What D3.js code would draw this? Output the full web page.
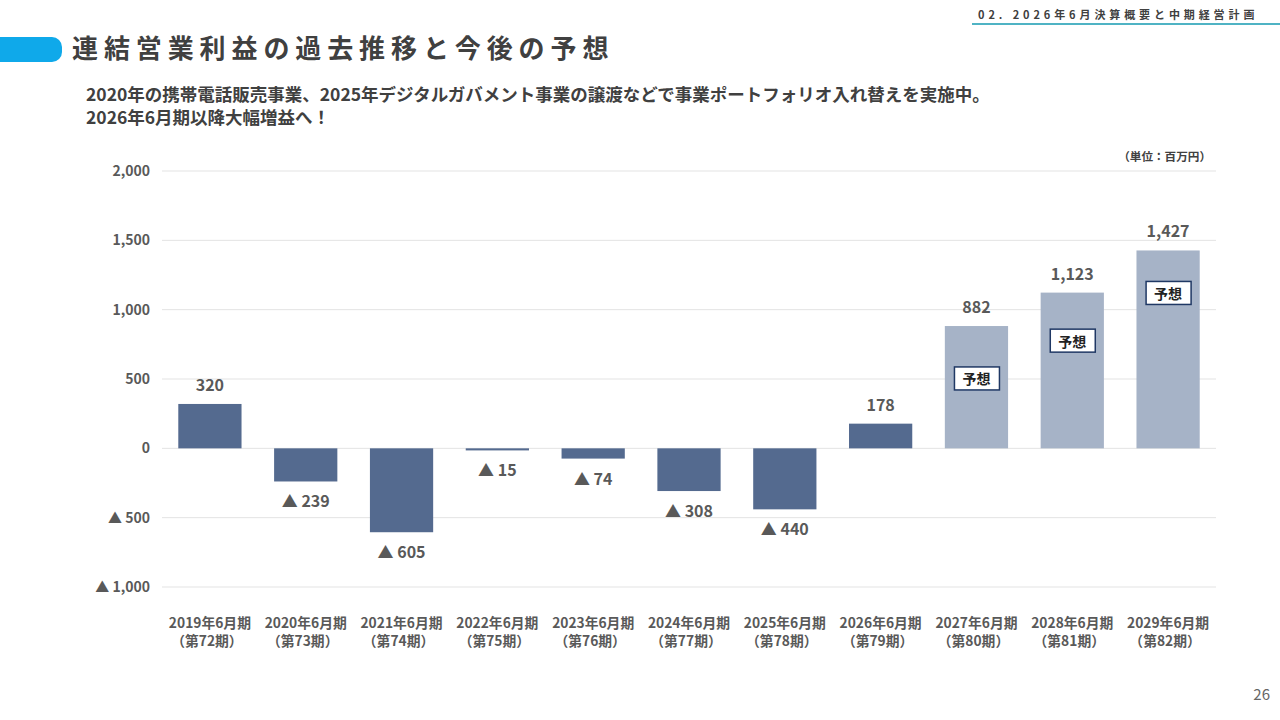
<!DOCTYPE html>
<html lang="ja">
<head>
  <meta charset="UTF-8" />
  <title>連結営業利益の過去推移と今後の予想</title>
  <style>
    body { margin: 0; padding: 0; background: #fff; font-family: "Noto Sans CJK JP", sans-serif; }
    svg { display: block; }
  </style>
</head>
<body>
  <svg id="chart"></svg>

  <script src="https://d3js.org/d3.v7.min.js"></script>
  <script>
    const W = 1280, H = 720;

    // data
    const periods = ["2019年6月期", "2020年6月期", "2021年6月期", "2022年6月期", "2023年6月期", "2024年6月期",
                     "2025年6月期", "2026年6月期", "2027年6月期", "2028年6月期", "2029年6月期"];
    const terms = ["（第72期）", "（第73期）", "（第74期）", "（第75期）", "（第76期）", "（第77期）",
                   "（第78期）", "（第79期）", "（第80期）", "（第81期）", "（第82期）"];
    const profit = [320, -239, -605, -15, -74, -308, -440, 178, 882, 1123, 1427];
    const forecast = [false, false, false, false, false, false, false, false, true, true, true];
    const yTicks = [2000, 1500, 1000, 500, 0, -500, -1000];

    const rows = periods.map((p, i) => ({ period: p, term: terms[i], value: profit[i], fc: forecast[i] }));

    const textColor = "#404040";
    const labelColor = "#595959";

    const svg = d3.select("#chart")
      .attr("width", W)
      .attr("height", H)
      .attr("viewBox", `0 0 ${W} ${H}`);

    // ---- header ----
    svg.append("rect")
      .attr("x", -20).attr("y", 37)
      .attr("width", 82).attr("height", 25)
      .attr("rx", 10)
      .attr("fill", "#0fa9ea");

    svg.append("text")
      .attr("x", 72).attr("y", 58)
      .attr("font-size", "26px")
      .attr("font-weight", 700)
      .attr("letter-spacing", "5.9px")
      .attr("fill", textColor)
      .text("連結営業利益の過去推移と今後の予想");

    svg.append("text")
      .attr("x", 978).attr("y", 19)
      .attr("font-size", "11px")
      .attr("font-weight", 700)
      .attr("letter-spacing", "3.9px")
      .attr("fill", textColor)
      .text("02. 2026年6月決算概要と中期経営計画");

    svg.append("line")
      .attr("x1", 972).attr("x2", W)
      .attr("y1", 24).attr("y2", 24)
      .attr("stroke", "#4fb3c4")
      .attr("stroke-width", 2);

    const sub = ["2020年の携帯電話販売事業、2025年デジタルガバメント事業の譲渡などで事業ポートフォリオ入れ替えを実施中。",
                 "2026年6月期以降大幅増益へ！"];
    svg.selectAll("text.sub")
      .data(sub)
      .join("text")
      .attr("class", "sub")
      .attr("x", 86)
      .attr("y", (d, i) => 101 + i * 23)
      .attr("font-size", "17.5px")
      .attr("font-weight", 700)
      .attr("fill", textColor)
      .text(d => d);

    svg.append("text")
      .attr("x", 1211).attr("y", 161)
      .attr("text-anchor", "end")
      .attr("font-size", "11.6px")
      .attr("font-weight", 700)
      .attr("fill", textColor)
      .text("（単位：百万円）");

    svg.append("text")
      .attr("x", 1270).attr("y", 700)
      .attr("text-anchor", "end")
      .attr("font-size", "15px")
      .attr("fill", "#666")
      .text("26");

    // ---- scales ----
    const x = d3.scaleBand()
      .domain(periods)
      .range([162, 1216])
      .paddingInner(0.34)
      .paddingOuter(0.17);

    const y = d3.scaleLinear()
      .domain([-1000, 2000])
      .range([587, 171]);

    const fmt = v => v < 0 ? "▲ " + d3.format(",")(-v) : d3.format(",")(v);

    // grid
    svg.append("g")
      .selectAll("line")
      .data(yTicks)
      .join("line")
      .attr("x1", 162).attr("x2", 1216)
      .attr("y1", d => y(d)).attr("y2", d => y(d))
      .attr("stroke", "#e3e3e3")
      .attr("stroke-width", 1);

    // y axis labels
    const yAxis = d3.axisLeft(y).tickValues(yTicks).tickSize(0).tickPadding(12).tickFormat(fmt);
    const yg = svg.append("g").attr("transform", "translate(162,0)").call(yAxis);
    yg.select(".domain").remove();
    yg.selectAll("text")
      .attr("font-family", "'Noto Sans CJK JP', sans-serif")
      .attr("font-size", "14px")
      .attr("font-weight", 700)
      .attr("fill", labelColor);

    // bars
    svg.append("g")
      .selectAll("rect")
      .data(rows)
      .join("rect")
      .attr("x", d => x(d.period))
      .attr("width", x.bandwidth())
      .attr("y", d => y(Math.max(0, d.value)))
      .attr("height", d => Math.max(1.5, Math.abs(y(d.value) - y(0))))
      .attr("fill", d => d.fc ? "#a6b3c7" : "#546a8f");

    // value labels
    svg.append("g")
      .selectAll("text")
      .data(rows)
      .join("text")
      .attr("x", d => x(d.period) + x.bandwidth() / 2)
      .attr("y", d => d.value >= 0 ? y(d.value) - 13 : y(d.value) + 26)
      .attr("text-anchor", "middle")
      .attr("font-size", "16px")
      .attr("font-weight", 700)
      .attr("fill", labelColor)
      .text(d => fmt(d.value));

    // forecast notes (box sits a bit lower on shorter bars)
    const notes = svg.append("g")
      .selectAll("g")
      .data(rows.filter(d => d.fc))
      .join("g")
      .attr("transform", d => `translate(${x(d.period) + x.bandwidth() / 2},${y(d.value) + 43 + (1427 - d.value) / 55})`);

    notes.append("rect")
      .attr("x", -22).attr("y", -12)
      .attr("width", 45).attr("height", 23)
      .attr("fill", "#fff")
      .attr("stroke", "#1f3864")
      .attr("stroke-width", 1.5);

    notes.append("text")
      .attr("y", 5.5)
      .attr("text-anchor", "middle")
      .attr("font-size", "14px")
      .attr("font-weight", 700)
      .attr("fill", "#222")
      .text("予想");

    // x labels
    const xl = svg.append("g")
      .selectAll("text")
      .data(rows)
      .join("text")
      .attr("text-anchor", "middle")
      .attr("font-size", "13.8px")
      .attr("font-weight", 700)
      .attr("fill", labelColor);

    xl.append("tspan")
      .attr("x", d => x(d.period) + x.bandwidth() / 2)
      .attr("y", 628)
      .text(d => d.period);

    xl.append("tspan")
      .attr("x", d => x(d.period) + x.bandwidth() / 2 - 3)
      .attr("y", 646)
      .text(d => d.term);
  </script>
</body>
</html>
